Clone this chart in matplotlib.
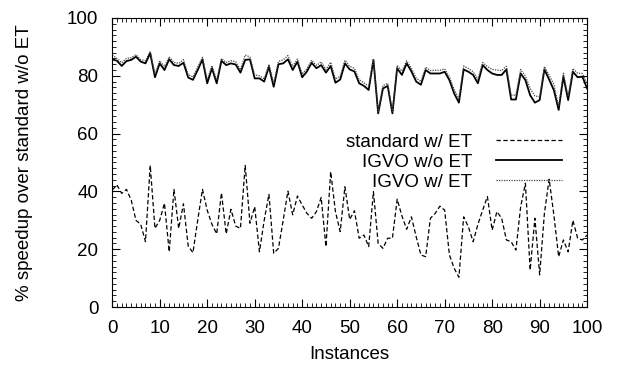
import matplotlib
matplotlib.use("Agg")
import matplotlib.pyplot as plt
import numpy as np
from matplotlib.ticker import MultipleLocator

plt.rcParams['font.family'] = ['Liberation Sans', 'DejaVu Sans']

instances = np.arange(0, 101)

standard_et = [
    40.5, 42.2, 39.3, 40.7, 37.0, 30.0, 28.6, 22.6, 49.0, 27.2,
    30.0, 35.9, 19.1, 40.7, 27.2, 35.7, 21.1, 18.8, 30.0, 40.7,
    33.5, 28.6, 25.3, 39.5, 25.3, 33.8, 28.0, 27.2, 49.0, 29.0,
    34.7, 19.1, 30.0, 39.0, 18.6, 20.3, 30.0, 40.1, 31.9, 38.4,
    35.3, 32.4, 30.7, 33.0, 37.9, 20.9, 46.8, 33.0, 26.1, 41.6,
    30.3, 33.3, 23.8, 24.9, 20.9, 39.9, 22.0, 20.3, 23.8, 23.8,
    37.3, 31.5, 26.9, 31.2, 24.3, 18.0, 17.4, 30.7, 32.4, 34.9,
    33.5, 18.0, 13.4, 10.3, 31.2, 27.7, 22.6, 28.6, 33.5, 38.2,
    26.6, 33.0, 30.7, 23.2, 22.6, 19.7, 34.7, 42.8, 12.8, 30.7,
    11.1, 32.4, 44.2, 31.8, 17.4, 23.2, 19.1, 30.0, 23.8, 23.2,
    24.9,
]

igvo_no_et = [
    85.7, 85.2, 83.4, 85.1, 85.5, 86.6, 84.9, 84.3, 87.8, 79.5,
    84.3, 82.0, 85.7, 83.7, 83.4, 84.5, 79.4, 78.6, 82.0, 85.7,
    77.4, 82.6, 77.4, 85.2, 83.7, 84.3, 83.9, 81.1, 85.5, 85.7,
    79.1, 79.1, 78.0, 83.1, 76.2, 84.0, 84.3, 85.7, 82.0, 84.9,
    79.5, 81.5, 84.5, 82.6, 83.7, 81.1, 83.4, 77.6, 78.7, 84.3,
    82.2, 81.5, 77.4, 76.5, 75.1, 85.5, 67.0, 75.6, 76.5, 67.0,
    82.6, 80.3, 84.3, 81.5, 78.0, 76.9, 82.0, 80.8, 80.8, 80.8,
    81.4, 78.5, 73.9, 70.7, 82.2, 81.4, 80.3, 77.4, 83.7, 82.0,
    80.8, 80.3, 80.3, 82.2, 71.8, 71.8, 80.8, 78.5, 73.3, 70.7,
    71.6, 82.2, 78.7, 75.0, 68.2, 79.7, 71.6, 81.4, 79.5, 79.7,
    75.6,
]

igvo_et = [
    87.2, 86.0, 84.5, 86.0, 86.3, 87.3, 85.6, 85.2, 88.5, 80.6,
    85.2, 83.2, 86.6, 84.6, 84.3, 85.6, 80.4, 79.6, 83.0, 86.4,
    78.6, 83.5, 78.5, 86.0, 84.6, 85.2, 84.9, 82.1, 87.2, 86.5,
    80.3, 80.0, 79.0, 84.0, 77.3, 85.0, 85.5, 87.0, 83.3, 85.8,
    80.6, 82.5, 85.4, 83.6, 84.8, 82.2, 84.7, 78.9, 79.8, 85.4,
    83.3, 82.6, 78.6, 77.6, 76.3, 86.0, 67.6, 76.6, 77.4, 67.6,
    83.6, 81.6, 85.2, 82.6, 79.2, 78.0, 83.0, 81.8, 81.9, 81.9,
    82.4, 79.6, 75.2, 72.2, 83.4, 82.5, 81.4, 78.8, 84.6, 83.2,
    82.2, 82.0, 81.8, 83.3, 73.3, 73.3, 82.2, 79.9, 75.6, 73.0,
    72.8, 83.2, 80.2, 77.0, 69.4, 80.9, 72.9, 82.5, 80.9, 80.8,
    77.2,
]

fs = 13.5

fig = plt.figure(figsize=(6.2, 3.71), dpi=100)
ax = fig.add_axes([0.181, 0.1725, 0.766, 0.779])

ax.plot(instances, standard_et, color='black', lw=0.9, ls=(0, (3.5, 2)), label='standard w/ ET')
ax.plot(instances, igvo_no_et, color='black', lw=1.3, ls='-', label='IGVO w/o ET')
ax.plot(instances, igvo_et, color='#444444', lw=0.9, ls=(0, (1, 1)), label='IGVO w/ ET')

ax.set_xlim(0, 100)
ax.set_ylim(0, 100)
ax.xaxis.set_major_locator(MultipleLocator(10))
ax.xaxis.set_minor_locator(MultipleLocator(1))
ax.yaxis.set_major_locator(MultipleLocator(20))
ax.yaxis.set_minor_locator(MultipleLocator(2))
ax.tick_params(which='both', direction='in', top=True, right=True, labelsize=fs)
ax.tick_params(axis='y', which='major', pad=10)
ax.tick_params(axis='x', which='major', pad=9)
ax.tick_params(which='major', length=6)
ax.tick_params(which='minor', length=3)

ax.set_xlabel('Instances', fontsize=fs)
ax.set_ylabel('% speedup over standard w/o ET', fontsize=fs)
ax.yaxis.set_label_coords(-0.166, 0.5)
ax.xaxis.set_label_coords(0.5, -0.135)

ax.legend(loc='upper right', bbox_to_anchor=(0.947, 0.60), borderaxespad=0, borderpad=0,
          frameon=False, markerfirst=False, handlelength=3.5, fontsize=fs,
          labelspacing=0.15, handletextpad=1.3)

fig.savefig('out.png', dpi=100)
